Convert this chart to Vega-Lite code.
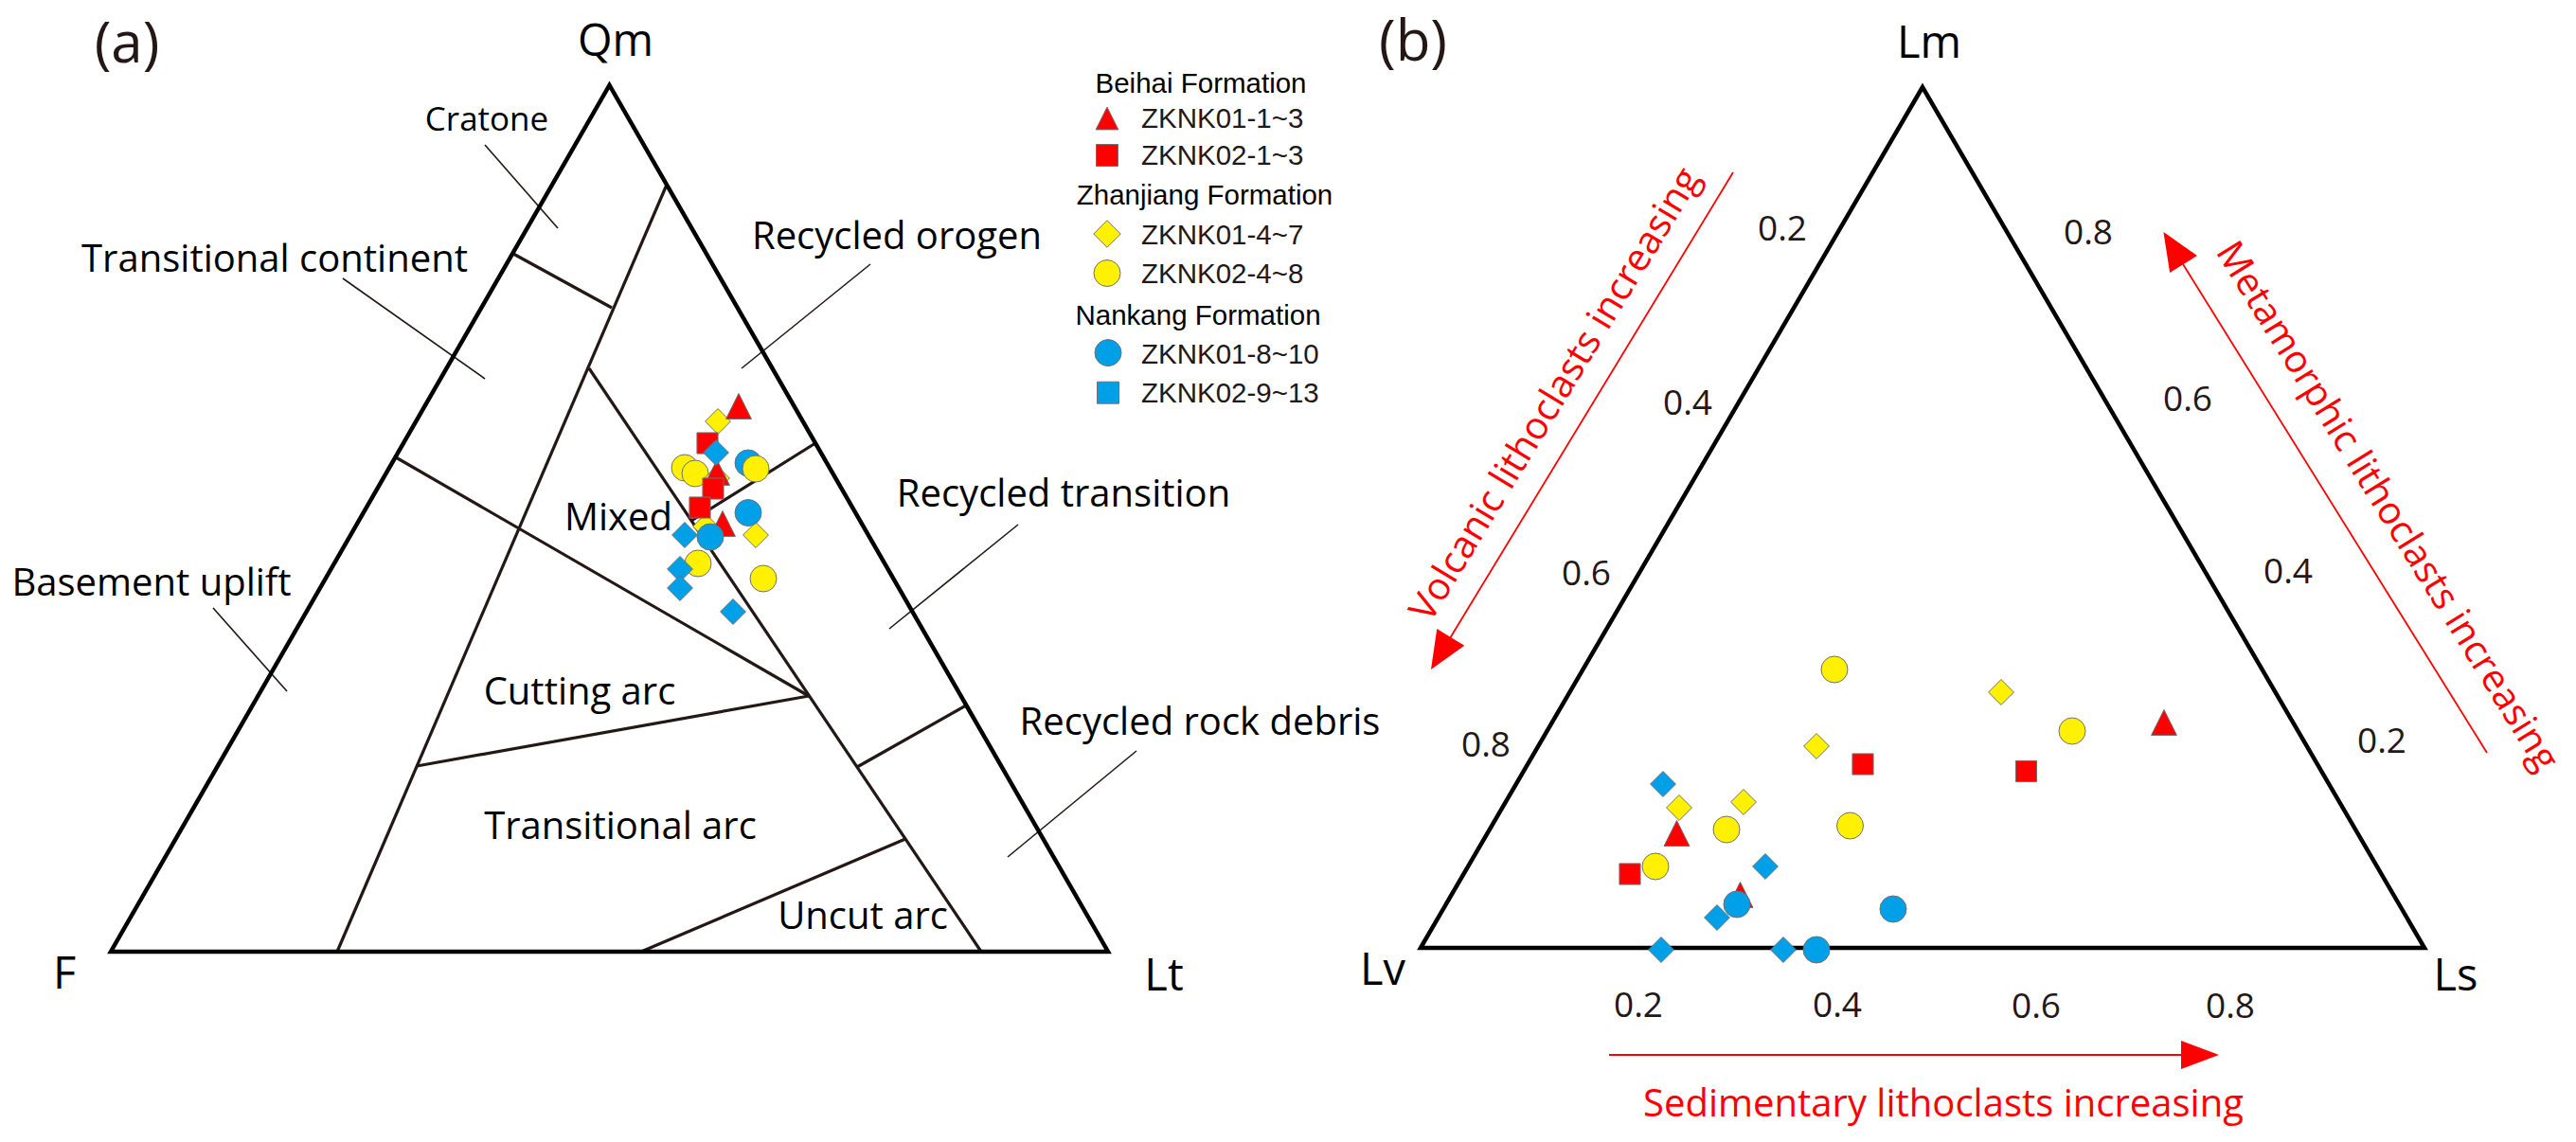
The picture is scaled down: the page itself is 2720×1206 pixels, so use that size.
{
  "$schema": "https://vega.github.io/schema/vega-lite/v6.json",
  "width": 2720,
  "height": 1206,
  "autosize": {"type": "fit", "contains": "padding"},
  "padding": 0,
  "background": "white",
  "config": {"view": {"stroke": null}},
  "datasets": {
    "outline": [
      {"tri": "a", "ord": 1, "x": 117, "y": 1005},
      {"tri": "a", "ord": 2, "x": 643.5, "y": 90},
      {"tri": "a", "ord": 3, "x": 1170, "y": 1005},
      {"tri": "a", "ord": 4, "x": 117, "y": 1005},
      {"tri": "a", "ord": 5, "x": 643.5, "y": 90},
      {"tri": "b", "ord": 1, "x": 1500, "y": 1001},
      {"tri": "b", "ord": 2, "x": 2030, "y": 92},
      {"tri": "b", "ord": 3, "x": 2560, "y": 1001},
      {"tri": "b", "ord": 4, "x": 1500, "y": 1001},
      {"tri": "b", "ord": 5, "x": 2030, "y": 92}
    ],
    "segs": [
      {"kind": "boundary", "x": 704, "y": 195, "x2": 356, "y2": 1005},
      {"kind": "boundary", "x": 542, "y": 268, "x2": 646, "y2": 325},
      {"kind": "boundary", "x": 418, "y": 483, "x2": 854, "y2": 735},
      {"kind": "boundary", "x": 622, "y": 389, "x2": 1036, "y2": 1005},
      {"kind": "boundary", "x": 861, "y": 468, "x2": 730, "y2": 550},
      {"kind": "boundary", "x": 1020, "y": 745, "x2": 905, "y2": 810},
      {"kind": "boundary", "x": 440, "y": 809, "x2": 854, "y2": 735},
      {"kind": "boundary", "x": 677, "y": 1005, "x2": 956, "y2": 886},
      {"kind": "leader", "x": 512, "y": 153, "x2": 589, "y2": 241},
      {"kind": "leader", "x": 362, "y": 294, "x2": 512, "y2": 400},
      {"kind": "leader", "x": 225, "y": 642, "x2": 303, "y2": 730},
      {"kind": "leader", "x": 783, "y": 389, "x2": 919, "y2": 279},
      {"kind": "leader", "x": 939, "y": 664, "x2": 1075, "y2": 554},
      {"kind": "leader", "x": 1064, "y": 905, "x2": 1200, "y2": 793},
      {"kind": "arrow", "x": 1830, "y": 182, "x2": 1531, "y2": 674},
      {"kind": "arrow", "x": 2626, "y": 795, "x2": 2305, "y2": 279},
      {"kind": "arrow", "x": 1699, "y": 1114, "x2": 2303, "y2": 1114}
    ],
    "heads": [
      {"dir": "volcanic", "x": 1521.4, "y": 690},
      {"dir": "metamorphic", "x": 2295, "y": 262},
      {"dir": "sedimentary", "x": 2323, "y": 1114}
    ],
    "redtext": [
      {"dir": "volcanic", "text": "Volcanic lithoclasts increasing", "x": 1643, "y": 417},
      {"dir": "metamorphic", "text": "Metamorphic lithoclasts increasing", "x": 2520, "y": 535},
      {"dir": "sedimentary", "text": "Sedimentary lithoclasts increasing", "x": 2052, "y": 1179}
    ],
    "pts": [
      {"panel": "a", "sample": "ZKNK01-8~10", "x": 790, "y": 489},
      {"panel": "a", "sample": "ZKNK02-4~8", "x": 723, "y": 494},
      {"panel": "a", "sample": "ZKNK02-4~8", "x": 734, "y": 500},
      {"panel": "a", "sample": "ZKNK02-4~8", "x": 798, "y": 495},
      {"panel": "a", "sample": "ZKNK02-4~8", "x": 737, "y": 595},
      {"panel": "a", "sample": "ZKNK02-4~8", "x": 806, "y": 611},
      {"panel": "a", "sample": "ZKNK01-4~7", "x": 758, "y": 445},
      {"panel": "a", "sample": "ZKNK01-4~7", "x": 757, "y": 505},
      {"panel": "a", "sample": "ZKNK01-4~7", "x": 745, "y": 556},
      {"panel": "a", "sample": "ZKNK01-4~7", "x": 798, "y": 565},
      {"panel": "a", "sample": "ZKNK01-1~3", "x": 780, "y": 429},
      {"panel": "a", "sample": "ZKNK01-1~3", "x": 757, "y": 499},
      {"panel": "a", "sample": "ZKNK01-1~3", "x": 763, "y": 553},
      {"panel": "a", "sample": "ZKNK02-1~3", "x": 747, "y": 468},
      {"panel": "a", "sample": "ZKNK02-1~3", "x": 753, "y": 516},
      {"panel": "a", "sample": "ZKNK02-1~3", "x": 739, "y": 536},
      {"panel": "a", "sample": "ZKNK02-9~13", "x": 756, "y": 478},
      {"panel": "a", "sample": "ZKNK02-9~13", "x": 723, "y": 565},
      {"panel": "a", "sample": "ZKNK02-9~13", "x": 718, "y": 601},
      {"panel": "a", "sample": "ZKNK02-9~13", "x": 718, "y": 621},
      {"panel": "a", "sample": "ZKNK02-9~13", "x": 774, "y": 646},
      {"panel": "a", "sample": "ZKNK01-8~10", "x": 790, "y": 541.5},
      {"panel": "a", "sample": "ZKNK01-8~10", "x": 750, "y": 567},
      {"panel": "b", "sample": "ZKNK01-4~7", "x": 1918, "y": 788},
      {"panel": "b", "sample": "ZKNK01-4~7", "x": 1773, "y": 853},
      {"panel": "b", "sample": "ZKNK01-4~7", "x": 1841, "y": 847},
      {"panel": "b", "sample": "ZKNK01-4~7", "x": 2113, "y": 731},
      {"panel": "b", "sample": "ZKNK02-1~3", "x": 1967, "y": 807},
      {"panel": "b", "sample": "ZKNK02-1~3", "x": 1721, "y": 923},
      {"panel": "b", "sample": "ZKNK02-1~3", "x": 2139.5, "y": 814.5},
      {"panel": "b", "sample": "ZKNK02-4~8", "x": 1937, "y": 707},
      {"panel": "b", "sample": "ZKNK02-4~8", "x": 1823, "y": 876},
      {"panel": "b", "sample": "ZKNK02-4~8", "x": 1953.5, "y": 872},
      {"panel": "b", "sample": "ZKNK02-4~8", "x": 1748, "y": 915},
      {"panel": "b", "sample": "ZKNK02-4~8", "x": 2188, "y": 772},
      {"panel": "b", "sample": "ZKNK01-1~3", "x": 1770.5, "y": 880},
      {"panel": "b", "sample": "ZKNK01-1~3", "x": 1837.5, "y": 945},
      {"panel": "b", "sample": "ZKNK01-1~3", "x": 2285, "y": 763},
      {"panel": "b", "sample": "ZKNK02-9~13", "x": 1756, "y": 828},
      {"panel": "b", "sample": "ZKNK02-9~13", "x": 1864, "y": 915},
      {"panel": "b", "sample": "ZKNK02-9~13", "x": 1813, "y": 969},
      {"panel": "b", "sample": "ZKNK02-9~13", "x": 1754, "y": 1003},
      {"panel": "b", "sample": "ZKNK02-9~13", "x": 1883, "y": 1003},
      {"panel": "b", "sample": "ZKNK01-8~10", "x": 1834, "y": 955},
      {"panel": "b", "sample": "ZKNK01-8~10", "x": 1999, "y": 960},
      {"panel": "b", "sample": "ZKNK01-8~10", "x": 1918, "y": 1003}
    ],
    "legsym": [
      {"sample": "ZKNK01-1~3", "x": 1169, "y": 125},
      {"sample": "ZKNK02-1~3", "x": 1169, "y": 164},
      {"sample": "ZKNK01-4~7", "x": 1169, "y": 247},
      {"sample": "ZKNK02-4~8", "x": 1169, "y": 288.5},
      {"sample": "ZKNK01-8~10", "x": 1170, "y": 372.6},
      {"sample": "ZKNK02-9~13", "x": 1170, "y": 414.7}
    ],
    "labels": [
      {"kind": "vertex", "text": "Qm", "x": 650, "y": 59},
      {"kind": "vertex", "text": "F", "x": 68, "y": 1044},
      {"kind": "vertex", "text": "Lt", "x": 1229, "y": 1046},
      {"kind": "vertex", "text": "Lm", "x": 2037, "y": 61},
      {"kind": "vertex", "text": "Lv", "x": 1460, "y": 1040},
      {"kind": "vertex", "text": "Ls", "x": 2593, "y": 1046},
      {"kind": "panel", "text": "(a)", "x": 134, "y": 66},
      {"kind": "panel", "text": "(b)", "x": 1492, "y": 64},
      {"kind": "small", "text": "Cratone", "x": 514, "y": 138},
      {"kind": "region", "text": "Transitional continent", "x": 290, "y": 287},
      {"kind": "region", "text": "Basement uplift", "x": 160, "y": 629},
      {"kind": "region", "text": "Mixed", "x": 653, "y": 560},
      {"kind": "region", "text": "Cutting arc", "x": 612, "y": 744},
      {"kind": "region", "text": "Transitional arc", "x": 655, "y": 886},
      {"kind": "region", "text": "Uncut arc", "x": 911, "y": 981},
      {"kind": "region", "text": "Recycled orogen", "x": 947, "y": 263},
      {"kind": "region", "text": "Recycled transition", "x": 1123, "y": 535},
      {"kind": "region", "text": "Recycled rock debris", "x": 1267, "y": 776},
      {"kind": "tick", "text": "0.2", "x": 1882, "y": 254},
      {"kind": "tick", "text": "0.4", "x": 1782, "y": 438},
      {"kind": "tick", "text": "0.6", "x": 1675, "y": 618},
      {"kind": "tick", "text": "0.8", "x": 1569, "y": 799},
      {"kind": "tick", "text": "0.8", "x": 2205, "y": 258},
      {"kind": "tick", "text": "0.6", "x": 2310, "y": 434},
      {"kind": "tick", "text": "0.4", "x": 2416, "y": 616},
      {"kind": "tick", "text": "0.2", "x": 2515, "y": 795},
      {"kind": "tick", "text": "0.2", "x": 1730, "y": 1074},
      {"kind": "tick", "text": "0.4", "x": 1940, "y": 1074},
      {"kind": "tick", "text": "0.6", "x": 2150, "y": 1075},
      {"kind": "tick", "text": "0.8", "x": 2355, "y": 1075},
      {"kind": "leghead", "text": "Beihai Formation", "x": 1268, "y": 98},
      {"kind": "leghead", "text": "Zhanjiang Formation", "x": 1272, "y": 216},
      {"kind": "leghead", "text": "Nankang Formation", "x": 1265, "y": 343},
      {"kind": "legitem", "text": "ZKNK01-1~3", "x": 1205, "y": 135},
      {"kind": "legitem", "text": "ZKNK02-1~3", "x": 1205, "y": 174},
      {"kind": "legitem", "text": "ZKNK01-4~7", "x": 1205, "y": 258},
      {"kind": "legitem", "text": "ZKNK02-4~8", "x": 1205, "y": 298.5},
      {"kind": "legitem", "text": "ZKNK01-8~10", "x": 1205, "y": 383.5},
      {"kind": "legitem", "text": "ZKNK02-9~13", "x": 1205, "y": 425}
    ]
  },
  "encoding": {
    "x": {"field": "x", "type": "quantitative", "scale": {"domain": [0, 2720], "nice": false, "zero": false}, "axis": null},
    "y": {"field": "y", "type": "quantitative", "scale": {"domain": [0, 1206], "nice": false, "zero": false, "reverse": true}, "axis": null}
  },
  "layer": [
    {
      "data": {"name": "segs"},
      "transform": [{"filter": "datum.kind === 'leader'"}],
      "mark": {"type": "rule", "color": "#231815", "strokeWidth": 1.6},
      "encoding": {"x2": {"field": "x2"}, "y2": {"field": "y2"}}
    },
    {
      "data": {"name": "segs"},
      "transform": [{"filter": "datum.kind === 'boundary'"}],
      "mark": {"type": "rule", "color": "#231815", "strokeWidth": 3.2},
      "encoding": {"x2": {"field": "x2"}, "y2": {"field": "y2"}}
    },
    {
      "data": {"name": "segs"},
      "transform": [{"filter": "datum.kind === 'arrow'"}],
      "mark": {"type": "rule", "color": "#FF0000", "strokeWidth": 1.8},
      "encoding": {"x2": {"field": "x2"}, "y2": {"field": "y2"}}
    },
    {
      "data": {"name": "outline"},
      "mark": {"type": "line", "color": "#000000", "strokeWidth": 4.5, "strokeJoin": "miter"},
      "encoding": {"detail": {"field": "tri"}, "order": {"field": "ord", "type": "quantitative"}}
    },
    {
      "data": {"name": "heads"},
      "transform": [{"filter": "datum.dir === 'volcanic'"}],
      "mark": {"type": "point", "shape": "M0,-1L0.85,1L-0.85,1Z", "filled": true, "color": "#FF0000", "size": 1600, "angle": 211.3, "opacity": 1}
    },
    {
      "data": {"name": "heads"},
      "transform": [{"filter": "datum.dir === 'metamorphic'"}],
      "mark": {"type": "point", "shape": "M0,-1L0.85,1L-0.85,1Z", "filled": true, "color": "#FF0000", "size": 1600, "angle": 328.1, "opacity": 1}
    },
    {
      "data": {"name": "heads"},
      "transform": [{"filter": "datum.dir === 'sedimentary'"}],
      "mark": {"type": "point", "shape": "M0,-1L0.75,1L-0.75,1Z", "filled": true, "color": "#FF0000", "size": 1600, "angle": 90, "opacity": 1}
    },
    {
      "data": {"name": "redtext"},
      "transform": [{"filter": "datum.dir === 'volcanic'"}],
      "mark": {"type": "text", "font": "Open Sans", "fontSize": 40, "color": "#FF0000", "align": "center", "baseline": "middle", "angle": 301.3},
      "encoding": {"text": {"field": "text"}}
    },
    {
      "data": {"name": "redtext"},
      "transform": [{"filter": "datum.dir === 'metamorphic'"}],
      "mark": {"type": "text", "font": "Open Sans", "fontSize": 40, "color": "#FF0000", "align": "center", "baseline": "middle", "angle": 58.2},
      "encoding": {"text": {"field": "text"}}
    },
    {
      "data": {"name": "redtext"},
      "transform": [{"filter": "datum.dir === 'sedimentary'"}],
      "mark": {"type": "text", "font": "Open Sans", "fontSize": 40, "color": "#FF0000", "align": "center", "baseline": "alphabetic"},
      "encoding": {"text": {"field": "text"}}
    },
    {
      "data": {"name": "pts"},
      "mark": {"type": "point", "filled": true, "size": 784, "stroke": "#707070", "strokeWidth": 1, "opacity": 1},
      "encoding": {
        "shape": {"field": "sample", "type": "nominal", "legend": null,
          "scale": {"domain": ["ZKNK01-1~3", "ZKNK02-1~3", "ZKNK01-4~7", "ZKNK02-4~8", "ZKNK01-8~10", "ZKNK02-9~13"],
            "range": ["M0,-0.96L0.96,0.96L-0.96,0.96Z", "M-0.79,-0.79L0.79,-0.79L0.79,0.79L-0.79,0.79Z", "M0,-0.96L0.96,0L0,0.96L-0.96,0Z", "circle", "circle", "M0,-0.96L0.96,0L0,0.96L-0.96,0Z"]}},
        "fill": {"field": "sample", "type": "nominal", "legend": null,
          "scale": {"domain": ["ZKNK01-1~3", "ZKNK02-1~3", "ZKNK01-4~7", "ZKNK02-4~8", "ZKNK01-8~10", "ZKNK02-9~13"],
            "range": ["#FF0000", "#FF0000", "#FFF100", "#FFF100", "#00A0E9", "#00A0E9"]}}
      }
    },
    {
      "data": {"name": "legsym"},
      "mark": {"type": "point", "filled": true, "size": 784, "stroke": "#707070", "strokeWidth": 1, "opacity": 1},
      "encoding": {
        "shape": {"field": "sample", "type": "nominal", "legend": null,
          "scale": {"domain": ["ZKNK01-1~3", "ZKNK02-1~3", "ZKNK01-4~7", "ZKNK02-4~8", "ZKNK01-8~10", "ZKNK02-9~13"],
            "range": ["M0,-0.85L0.85,0.85L-0.85,0.85Z", "M-0.82,-0.82L0.82,-0.82L0.82,0.82L-0.82,0.82Z", "M0,-1.02L1.02,0L0,1.02L-1.02,0Z", "circle", "circle", "M-0.82,-0.82L0.82,-0.82L0.82,0.82L-0.82,0.82Z"]}},
        "fill": {"field": "sample", "type": "nominal", "legend": null,
          "scale": {"domain": ["ZKNK01-1~3", "ZKNK02-1~3", "ZKNK01-4~7", "ZKNK02-4~8", "ZKNK01-8~10", "ZKNK02-9~13"],
            "range": ["#FF0000", "#FF0000", "#FFF100", "#FFF100", "#00A0E9", "#00A0E9"]}}
      }
    },
    {
      "data": {"name": "labels"},
      "transform": [{"filter": "datum.kind === 'vertex'"}],
      "mark": {"type": "text", "font": "Open Sans", "fontSize": 47, "color": "#000000", "align": "center", "baseline": "alphabetic"},
      "encoding": {"text": {"field": "text"}}
    },
    {
      "data": {"name": "labels"},
      "transform": [{"filter": "datum.kind === 'panel'"}],
      "mark": {"type": "text", "font": "Open Sans", "fontSize": 60, "color": "#231815", "align": "center", "baseline": "alphabetic"},
      "encoding": {"text": {"field": "text"}}
    },
    {
      "data": {"name": "labels"},
      "transform": [{"filter": "datum.kind === 'region'"}],
      "mark": {"type": "text", "font": "Open Sans", "fontSize": 40, "color": "#000000", "align": "center", "baseline": "alphabetic"},
      "encoding": {"text": {"field": "text"}}
    },
    {
      "data": {"name": "labels"},
      "transform": [{"filter": "datum.kind === 'small'"}],
      "mark": {"type": "text", "font": "Open Sans", "fontSize": 35, "color": "#000000", "align": "center", "baseline": "alphabetic"},
      "encoding": {"text": {"field": "text"}}
    },
    {
      "data": {"name": "labels"},
      "transform": [{"filter": "datum.kind === 'tick'"}],
      "mark": {"type": "text", "font": "Open Sans", "fontSize": 37, "color": "#231815", "align": "center", "baseline": "alphabetic"},
      "encoding": {"text": {"field": "text"}}
    },
    {
      "data": {"name": "labels"},
      "transform": [{"filter": "datum.kind === 'leghead'"}],
      "mark": {"type": "text", "font": "Liberation Sans", "fontSize": 29.5, "color": "#000000", "align": "center", "baseline": "alphabetic"},
      "encoding": {"text": {"field": "text"}}
    },
    {
      "data": {"name": "labels"},
      "transform": [{"filter": "datum.kind === 'legitem'"}],
      "mark": {"type": "text", "font": "Liberation Sans", "fontSize": 29.5, "color": "#231815", "align": "left", "baseline": "alphabetic"},
      "encoding": {"text": {"field": "text"}}
    }
  ],
  "resolve": {"scale": {"shape": "independent", "fill": "independent"}}
}
